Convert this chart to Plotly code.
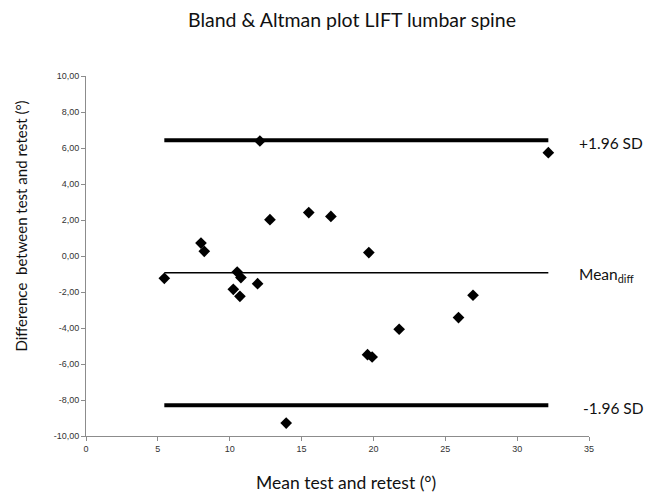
import plotly.graph_objects as go

# Mean of test and retest (degrees) and their difference (degrees)
mean_vals = [5.45, 8.0, 8.23, 10.52, 10.78, 10.25, 10.71, 11.94, 12.1, 12.8, 13.93,
             15.5, 17.04, 19.68, 19.59, 19.91, 21.79, 25.92, 26.93, 32.17]
diff_vals = [-1.24, 0.72, 0.26, -0.89, -1.2, -1.85, -2.24, -1.54, 6.39, 2.02, -9.28,
             2.41, 2.2, 0.19, -5.48, -5.61, -4.07, -3.42, -2.18, 5.74]

mean_diff = -0.93
upper_loa = 6.43
lower_loa = -8.29

x_ticks = [0, 5, 10, 15, 20, 25, 30, 35]
y_ticks = [-10, -8, -6, -4, -2, 0, 2, 4, 6, 8, 10]
y_ticklabels = [f"{v:.2f}".replace(".", ",") for v in y_ticks]

x_span = [min(mean_vals), max(mean_vals)]

fig = go.Figure()

# limits of agreement and mean difference
fig.add_trace(go.Scatter(x=x_span, y=[upper_loa, upper_loa], mode="lines",
                         line=dict(color="black", width=4), hoverinfo="skip"))
fig.add_trace(go.Scatter(x=x_span, y=[lower_loa, lower_loa], mode="lines",
                         line=dict(color="black", width=4), hoverinfo="skip"))
fig.add_trace(go.Scatter(x=x_span, y=[mean_diff, mean_diff], mode="lines",
                         line=dict(color="black", width=1.6), hoverinfo="skip"))

fig.add_trace(go.Scatter(x=mean_vals, y=diff_vals, mode="markers",
                         marker=dict(symbol="diamond", size=9, color="black")))

family = "Lato, Open Sans, sans-serif"
line_label_font = dict(family=family, size=15.5, color="#111")

annotations = [
    dict(text="Bland &amp; Altman plot LIFT lumbar spine", xref="paper", yref="paper",
         x=0.529, y=1.157, xanchor="center", yanchor="middle", showarrow=False,
         font=dict(family=family, size=19.5, color="#111")),
    dict(text="Difference\u00a0 between test and retest (°)", xref="paper", yref="paper",
         x=-0.129, y=0.582, textangle=-90, xanchor="center", yanchor="middle",
         showarrow=False, font=dict(family=family, size=15, color="#111")),
    dict(text="Mean test and retest (°)", xref="paper", yref="paper",
         x=0.516, y=-0.129, xanchor="center", yanchor="middle", showarrow=False,
         font=dict(family=family, size=17.5, color="#111")),
    dict(text="+1.96 SD", xref="paper", yref="y", x=0.976, y=upper_loa - 0.15,
         xanchor="left", yanchor="middle", showarrow=False, font=line_label_font),
    dict(text="Mean<sub>diff</sub>", xref="paper", yref="y", x=0.976, y=mean_diff - 0.1,
         xanchor="left", yanchor="middle", showarrow=False, font=line_label_font),
    dict(text="-1.96 SD", xref="paper", yref="y", x=0.985, y=lower_loa - 0.15,
         xanchor="left", yanchor="middle", showarrow=False, font=line_label_font),
]

tick_font = dict(family="Liberation Sans, Arial, sans-serif", size=9, color="#333")

fig.update_layout(
    width=649, height=495,
    margin=dict(l=86, r=60, t=76, b=59),
    paper_bgcolor="white", plot_bgcolor="white",
    showlegend=False,
    annotations=annotations,
    xaxis=dict(range=[0, 35], tickvals=x_ticks, ticktext=[str(v) for v in x_ticks],
               showgrid=False, zeroline=False, showline=True, linecolor="#8c8c8c",
               linewidth=1, ticks="outside", ticklen=4, tickcolor="#8c8c8c",
               tickfont=tick_font),
    yaxis=dict(range=[-10, 10], tickvals=y_ticks, ticktext=y_ticklabels,
               showgrid=False, zeroline=False, showline=True, linecolor="#8c8c8c",
               linewidth=1, ticks="outside", ticklen=4, tickcolor="#8c8c8c",
               tickfont=tick_font),
)

fig.write_html("out.html")
